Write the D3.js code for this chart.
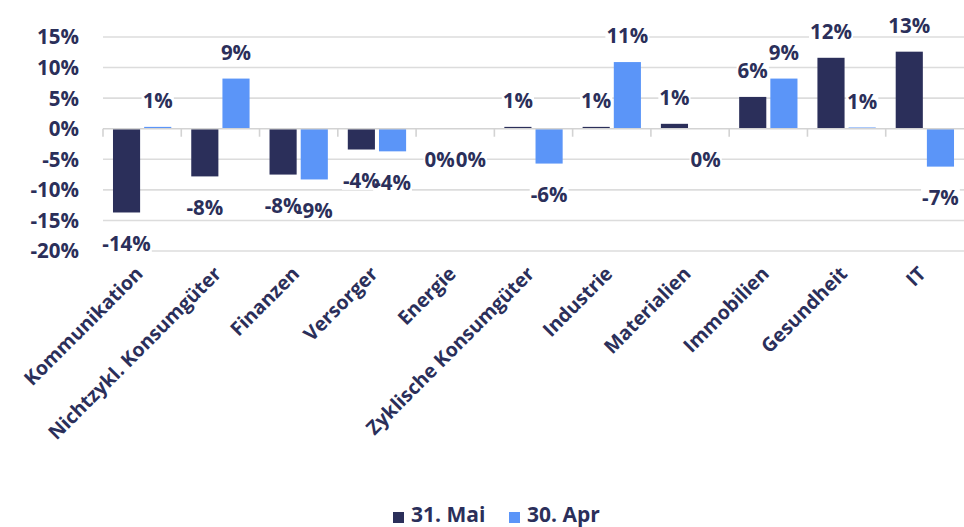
<!DOCTYPE html>
<html><head><meta charset="utf-8">
<script src="https://cdn.jsdelivr.net/npm/d3@7"></script>
<style>
body{margin:0;background:#fff;}
svg{display:block;font-family:"Open Sans",sans-serif;font-weight:700;}
</style></head>
<body>
<svg id="c" width="964" height="527"></svg>
<script>
const categories = ["Kommunikation","Nichtzykl. Konsumgüter","Finanzen","Versorger","Energie","Zyklische Konsumgüter","Industrie","Materialien","Immobilien","Gesundheit","IT"];
const seriesNames = ["31. Mai","30. Apr"];
const mai = [-13.7,-7.8,-7.5,-3.4,0,0.3,0.3,0.8,5.2,11.6,12.6];
const apr = [0.3,8.2,-8.3,-3.7,0,-5.7,10.9,0,8.2,0.2,-6.2];
const yTicks = [-20,-15,-10,-5,0,5,10,15];
const colors = ["#2b2f5a","#5b95f8"];
const textColor = "#2b2f5a";

(function(){
const svg = d3.select("#c");
const pLeft = 103, pRight = 964, pTop = 37, pBottom = 251;
const y = d3.scaleLinear().domain([-20,15]).range([pBottom, pTop]);
const x0 = d3.scaleBand().domain(categories).range([pLeft, pRight]).paddingInner(0.255).paddingOuter(0.1275);
const x1 = d3.scaleBand().domain([0,1]).range([0, x0.bandwidth()]).paddingInner(0.13);
const step = x0.step();
const bandStart = c => pLeft + categories.indexOf(c)*step;

// gridlines
svg.append("g").selectAll("line").data(yTicks.filter(t=>t!==0)).join("line")
  .attr("x1", pLeft).attr("x2", pRight).attr("y1", d=>y(d)).attr("y2", d=>y(d))
  .attr("stroke","#dcdcdc").attr("stroke-width",1.6);

// y labels
svg.append("g").selectAll("text").data(yTicks).join("text")
  .attr("x", 79).attr("y", d=>y(d)).attr("dy","0.36em").attr("text-anchor","end")
  .attr("fill", textColor).attr("font-size", 20.5).text(d=>d+"%");

// bars
const data = categories.map((c,i)=>({c, vals:[mai[i], apr[i]]}));
const g = svg.append("g");
data.forEach(d=>{
  d.vals.forEach((v,j)=>{
    g.append("rect")
      .attr("x", x0(d.c)+x1(j)).attr("width", x1.bandwidth())
      .attr("y", Math.min(y(v), y(0))).attr("height", Math.abs(y(v)-y(0)))
      .attr("fill", colors[j]);
  });
});

// x axis line and ticks
svg.append("line").attr("x1",pLeft).attr("x2",pRight).attr("y1",y(0)).attr("y2",y(0))
  .attr("stroke","#d3d3d3").attr("stroke-width",1.6);
svg.append("g").selectAll("line").data(categories).join("line")
  .attr("x1", d=>bandStart(d)).attr("x2", d=>bandStart(d))
  .attr("y1", y(0)).attr("y2", y(0)+8).attr("stroke","#d3d3d3").attr("stroke-width",1.6);

// value labels: white backing first, then texts
const fmt = v => v===0 ? "0%" : (v<0?"-":"") + Math.ceil(Math.abs(v)) + "%";
const bgG = svg.append("g");
const lg = svg.append("g");
data.forEach(d=>{
  d.vals.forEach((v,j)=>{
    const cx = x0(d.c)+x1(j)+x1.bandwidth()/2;
    const cy = v>0 ? y(v)-26 : y(v)+31;
    const t = lg.append("text").attr("x", cx).attr("y", cy).attr("dy","0.36em")
      .attr("text-anchor","middle").attr("font-size",20.5).attr("fill", textColor).text(fmt(v));
    const bb = t.node().getBBox();
    bgG.append("rect").attr("x", bb.x-1).attr("y", bb.y+4).attr("width", bb.width+2).attr("height", bb.height-8).attr("fill","#fff");
  });
});

// category labels
svg.append("g").selectAll("text").data(categories).join("text")
  .attr("transform", d=>`translate(${bandStart(d)+step/2+2},${275}) rotate(-45)`)
  .attr("text-anchor","end").attr("font-size",19.5).attr("fill",textColor)
  .text(d=>d);

// legend
const leg = svg.append("g");
const items = [{n:seriesNames[0],x:393},{n:seriesNames[1],x:509}];
items.forEach((it,i)=>{
  leg.append("rect").attr("x", it.x).attr("y", 512).attr("width",11).attr("height",11).attr("fill",colors[i]);
  leg.append("text").attr("x", it.x+18).attr("y", 522).attr("font-size",21)
    .attr("fill",textColor).text(it.n);
});
})();
</script>
</body></html>
